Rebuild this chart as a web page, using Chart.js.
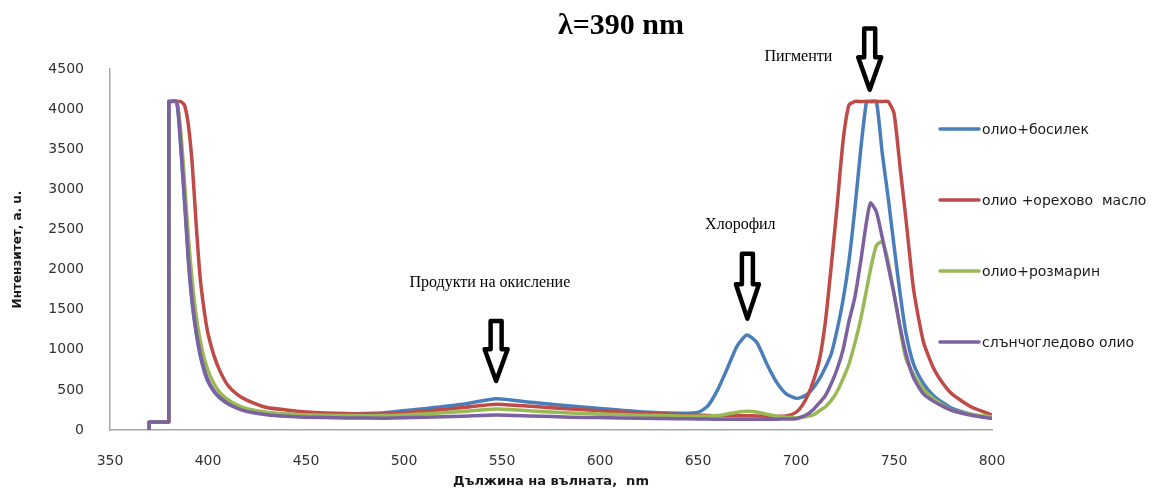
<!DOCTYPE html>
<html>
<head>
<meta charset="utf-8">
<script src="https://cdn.jsdelivr.net/npm/chart.js@4.4.1/dist/chart.umd.min.js"></script>
<style>
  html, body { margin: 0; padding: 0; background: #fff; }
  canvas { display: block; }
</style>
</head>
<body>
<canvas id="chart" width="1157" height="491"></canvas>
<script>
// wavelength grid, nm (repeated values = vertical steps of the lamp edge)
const wavelengths = [
  370, 370, 370.5, 379.5, 380, 380, 380.5, 384, 386, 388, 390, 392, 394, 396, 398, 400,
  403, 406, 410, 415, 420, 430, 440, 450, 470, 490, 510, 530, 547,
  565, 585, 600, 620, 640, 650, 655, 660, 665, 670, 675, 680, 685,
  690, 695, 700, 703, 706, 709, 712, 715, 718, 721, 724, 727, 730,
  733, 736, 738, 741, 744, 747, 750, 753, 756, 760, 765, 770, 775,
  780, 790, 800,
]

const basil = [
  0, 100, 100, 100, 100, 4095, 4095, 4095, 3550, 2850, 2100, 1560, 1200, 930, 740, 600,
  480, 400, 330, 275, 240, 205, 195, 195, 200, 215, 265, 320, 390,
  345, 300, 268, 228, 210, 220, 300, 500, 770, 1050, 1185, 1090, 830,
  600, 450, 395, 410, 450, 530, 640, 780, 950, 1250, 1620, 2100, 2750,
  3490, 4095, 4095, 4095, 3450, 2900, 2300, 1720, 1220, 820, 580, 430, 340,
  265, 190, 150,
]

const walnut = [
  0, 100, 100, 100, 100, 4095, 4095, 4095, 4095, 4050, 3800, 3300, 2550, 1900, 1500, 1200,
  930, 740, 560, 440, 370, 280, 250, 225, 205, 200, 235, 280, 322,
  295, 262, 240, 212, 192, 185, 180, 178, 178, 178, 178, 175, 172,
  170, 175, 220, 300, 430, 620, 880, 1350, 2050, 2800, 3600, 4050, 4095,
  4095, 4095, 4095, 4095, 4095, 4095, 3950, 3300, 2650, 1750, 1100, 780, 580,
  440, 280, 190,
]

const rosemary = [
  0, 100, 100, 100, 100, 4095, 4095, 4095, 3750, 3100, 2400, 1850, 1420, 1120, 900, 740,
  580, 470, 380, 310, 265, 220, 200, 190, 180, 180, 200, 232, 262,
  238, 212, 200, 185, 175, 170, 172, 180, 200, 222, 235, 225, 198,
  172, 160, 150, 160, 172, 190, 240, 290, 370, 480, 640, 820, 1080,
  1380, 1750, 2000, 2300, 2350, 2100, 1700, 1280, 900, 690, 510, 390, 310,
  245, 195, 165,
]

const sunflower = [
  0, 100, 100, 100, 100, 4095, 4095, 4095, 3600, 2900, 2150, 1600, 1230, 960, 760, 620,
  490, 410, 330, 270, 230, 190, 170, 160, 150, 148, 158, 172, 187,
  175, 160, 155, 145, 140, 138, 136, 135, 135, 135, 135, 135, 135,
  135, 137, 140, 165, 200, 260, 340, 430, 580, 760, 1000, 1350, 1650,
  2100, 2600, 2830, 2720, 2400, 2050, 1700, 1300, 960, 650, 450, 360, 295,
  240, 180, 145,
]

const seriesNames = ['олио+босилек', 'олио +орехово  масло', 'олио+розмарин', 'слънчогледово олио']
const seriesColors = ['#4a7ebb', '#be4b48', '#98b954', '#7d60a0']
const seriesValues = [basil, walnut, rosemary, sunflower]
const drawOrder = [3, 2, 1, 0]

const xTicks = [350, 400, 450, 500, 550, 600, 650, 700, 750, 800]
const yTicks = [0, 500, 1000, 1500, 2000, 2500, 3000, 3500, 4000, 4500]

// callouts: label text and hollow arrows, placed in data coordinates
const notes = [
  { text: 'Продукти на окисление', x: 543.8, y: 1833 },
  { text: 'Хлорофил', x: 671.6, y: 2556 },
  { text: 'Пигменти', x: 701.2, y: 4651 },
]
const arrows = [
  { x: 547, top: 1384, tip: 586 },
  { x: 675.2, top: 2223, tip: 1363 },
  { x: 737.6, top: 5029, tip: 4218 },
]

const SANS = '"DejaVu Sans", Verdana, sans-serif'
const SERIF = '"Liberation Serif", "Times New Roman", serif'

const extras = {
  id: 'extras',
  afterDraw(chart) {
    const { ctx, scales } = chart
    const sx = scales.x
    const sy = scales.y
    ctx.save()

    // title
    ctx.fillStyle = '#000'
    ctx.font = `bold 30px ${SERIF}`
    ctx.textAlign = 'center'
    ctx.textBaseline = 'middle'
    ctx.fillText('λ=390 nm', 621, 26)

    // legend
    ctx.font = `14px ${SANS}`
    ctx.textAlign = 'left'
    const legendY = [129, 200, 271, 342]
    seriesNames.forEach((name, i) => {
      ctx.strokeStyle = seriesColors[i]
      ctx.lineWidth = 3.5
      ctx.lineCap = 'round'
      ctx.beginPath()
      ctx.moveTo(940, legendY[i])
      ctx.lineTo(979, legendY[i])
      ctx.stroke()
      ctx.fillStyle = '#1a1a1a'
      ctx.fillText(name, 982, legendY[i] + 1)
    })

    // callout labels
    ctx.font = `16px ${SERIF}`
    ctx.textAlign = 'center'
    ctx.fillStyle = '#000'
    notes.forEach((n) => {
      ctx.fillText(n.text, sx.getPixelForValue(n.x), sy.getPixelForValue(n.y))
    })

    // hollow arrows
    ctx.lineWidth = 4.5
    ctx.lineJoin = 'round'
    ctx.lineCap = 'butt'
    ctx.strokeStyle = '#000'
    ctx.fillStyle = '#fff'
    arrows.forEach((a) => {
      const cx = sx.getPixelForValue(a.x)
      const top = sy.getPixelForValue(a.top) + 2
      const tip = sy.getPixelForValue(a.tip) - 2
      const headY = top + (tip - top) * 0.47
      ctx.beginPath()
      ctx.moveTo(cx - 5.5, top)
      ctx.lineTo(cx + 5.5, top)
      ctx.lineTo(cx + 5.5, headY)
      ctx.lineTo(cx + 11.5, headY)
      ctx.lineTo(cx, tip)
      ctx.lineTo(cx - 11.5, headY)
      ctx.lineTo(cx - 5.5, headY)
      ctx.closePath()
      ctx.fill()
      ctx.stroke()
    })

    ctx.restore()
  },
}

const datasets = seriesValues.map((values, i) => ({
  label: seriesNames[i],
  data: wavelengths.map((x, j) => ({ x, y: values[j] })),
  borderColor: seriesColors[i],
  backgroundColor: seriesColors[i],
  borderWidth: 3.5,
  pointRadius: 0,
  tension: 0.2,
  fill: false,
  order: drawOrder[i],
}))

new Chart(document.getElementById('chart'), {
  type: 'line',
  data: { datasets },
  plugins: [extras],
  options: {
    responsive: false,
    animation: false,
    layout: { padding: { top: 69, right: 165, left: 0, bottom: 0 } },
    plugins: {
      legend: { display: false },
      tooltip: { enabled: false },
      title: { display: false },
    },
    scales: {
      x: {
        type: 'linear',
        min: 350,
        max: 800,
        afterFit: (s) => { s.height = 61 },
        afterBuildTicks: (s) => { s.ticks = xTicks.map((v) => ({ value: v })) },
        grid: { display: false },
        border: { display: true, color: '#a6a6a6', width: 1.5 },
        ticks: {
          color: '#333',
          font: { family: SANS, size: 14 },
          padding: 15,
          maxRotation: 0,
          callback: (v) => String(v),
        },
        title: {
          display: true,
          text: 'Дължина на вълната,  nm',
          color: '#1a1a1a',
          font: { family: SANS, size: 13, weight: 'bold' },
          padding: { top: 0, bottom: 2 },
        },
      },
      y: {
        min: 0,
        max: 4500,
        afterFit: (s) => { s.width = 110 },
        afterBuildTicks: (s) => { s.ticks = yTicks.map((v) => ({ value: v })) },
        grid: { display: false },
        border: { display: true, color: '#a6a6a6', width: 1.5 },
        ticks: {
          color: '#333',
          font: { family: SANS, size: 14 },
          padding: 18,
          callback: (v) => String(v),
        },
        title: {
          display: true,
          text: 'Интензитет, а. u.',
          color: '#1a1a1a',
          font: { family: SANS, size: 12, weight: 'bold' },
          padding: { top: 11, bottom: 0 },
        },
      },
    },
  },
})
</script>
</body>
</html>
